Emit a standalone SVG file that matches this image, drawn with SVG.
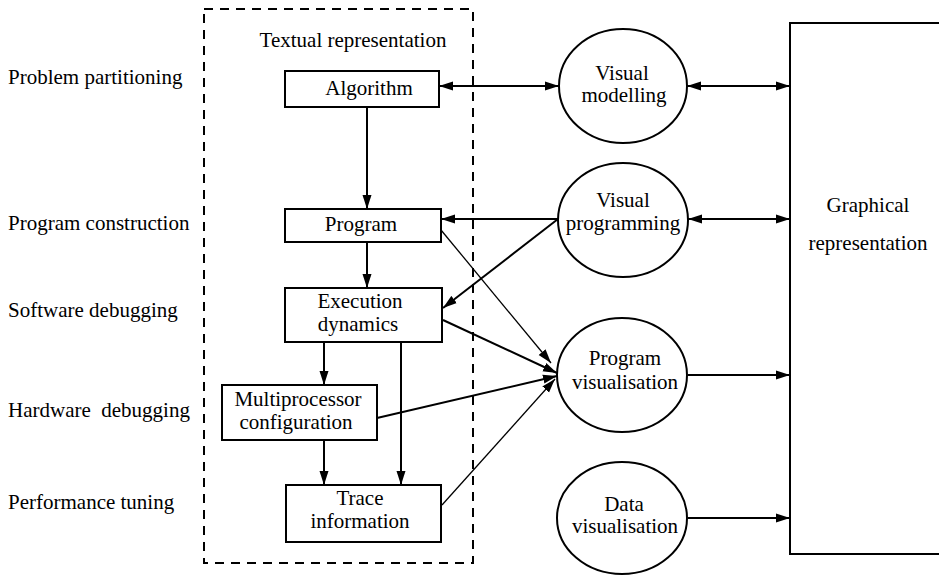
<svg xmlns="http://www.w3.org/2000/svg" width="939" height="575" viewBox="0 0 939 575" font-family="'Liberation Serif', 'Times New Roman', serif" font-size="21">
  <defs>
    <marker id="ah" markerWidth="14" markerHeight="10" refX="14" refY="5" orient="auto-start-reverse" markerUnits="userSpaceOnUse">
      <path d="M0,0.5 L14,5 L0,9.5 Z" fill="#000"/>
    </marker>
    <style>
      text { font-family: 'Liberation Serif', 'Times New Roman', serif; font-size: 21px; fill: #000; }
      .c { text-anchor: middle; }
      .box { fill: #fff; stroke: #000; stroke-width: 2; }
      .ell { fill: #fff; stroke: #000; stroke-width: 2; }
      .frame { fill: none; stroke: #000; stroke-width: 2; stroke-dasharray: 9 7; }
      .ln { fill: none; stroke: #000; stroke-width: 2; }
      .thin { fill: none; stroke: #000; stroke-width: 1.3; }
    </style>
  </defs>
  <rect width="939" height="575" fill="#fff"/>

  <!-- activity labels on the left -->
  <g id="labels">
    <text x="8" y="84">Problem partitioning</text>
    <text x="8" y="230">Program construction</text>
    <text x="8" y="317">Software debugging</text>
    <text x="8" y="417" xml:space="preserve">Hardware  debugging</text>
    <text x="8" y="509">Performance tuning</text>
  </g>

  <!-- dashed boundary of the textual side -->
  <g id="textual-representation">
    <rect class="frame" x="204" y="9" width="269" height="554"/>
    <text class="c" x="353" y="47">Textual representation</text>
  </g>

  <!-- connectors -->
  <g id="connectors">
    <line class="ln" x1="439" y1="86" x2="559" y2="86" marker-start="url(#ah)" marker-end="url(#ah)"/>
    <line class="ln" x1="687" y1="86" x2="790" y2="86" marker-start="url(#ah)" marker-end="url(#ah)"/>
    <line class="ln" x1="688" y1="219" x2="790" y2="219" marker-start="url(#ah)" marker-end="url(#ah)"/>
    <line class="ln" x1="558" y1="219" x2="441" y2="219" marker-end="url(#ah)"/>
    <line class="ln" x1="558" y1="219" x2="443" y2="308" marker-end="url(#ah)"/>
    <line class="ln" x1="367" y1="107" x2="367" y2="209" marker-end="url(#ah)"/>
    <line class="ln" x1="367" y1="242" x2="367" y2="288" marker-end="url(#ah)"/>
    <line class="ln" x1="324" y1="342" x2="324" y2="385" marker-end="url(#ah)"/>
    <line class="ln" x1="401" y1="342" x2="401" y2="485" marker-end="url(#ah)"/>
    <line class="ln" x1="324" y1="440" x2="324" y2="485" marker-end="url(#ah)"/>
    <line class="thin" x1="441" y1="230" x2="551" y2="363" marker-end="url(#ah)"/>
    <line class="ln" x1="443" y1="320" x2="557" y2="373" marker-end="url(#ah)"/>
    <line class="ln" x1="377" y1="418" x2="557" y2="376" marker-end="url(#ah)"/>
    <line class="thin" x1="442" y1="505" x2="555" y2="379" marker-end="url(#ah)"/>
    <line class="ln" x1="688" y1="375" x2="790" y2="375" marker-end="url(#ah)"/>
    <line class="ln" x1="688" y1="518" x2="790" y2="518" marker-end="url(#ah)"/>
  </g>

  <!-- textual boxes -->
  <g id="algorithm">
    <rect class="box" x="285" y="71" width="154" height="36"/>
    <text class="c" x="369" y="95">Algorithm</text>
  </g>
  <g id="program">
    <rect class="box" x="285" y="209" width="156" height="33"/>
    <text class="c" x="361" y="231">Program</text>
  </g>
  <g id="execution-dynamics">
    <rect class="box" x="285" y="288" width="157" height="54"/>
    <text class="c" x="360" y="308">Execution</text>
    <text class="c" x="358" y="331">dynamics</text>
  </g>
  <g id="multiprocessor-configuration">
    <rect class="box" x="222" y="385" width="155" height="55"/>
    <text class="c" x="298" y="406">Multiprocessor</text>
    <text class="c" x="296" y="429">configuration</text>
  </g>
  <g id="trace-information">
    <rect class="box" x="286" y="485" width="155" height="57"/>
    <text class="c" x="360" y="505">Trace</text>
    <text class="c" x="360" y="528">information</text>
  </g>

  <!-- visual techniques -->
  <g id="visual-modelling">
    <ellipse class="ell" cx="623" cy="86" rx="64" ry="57"/>
    <text class="c" x="622" y="80">Visual</text>
    <text class="c" x="624" y="102">modelling</text>
  </g>
  <g id="visual-programming">
    <ellipse class="ell" cx="623" cy="220" rx="65" ry="57"/>
    <text class="c" x="623" y="207">Visual</text>
    <text class="c" x="623" y="230">programming</text>
  </g>
  <g id="program-visualisation">
    <ellipse class="ell" cx="622" cy="375" rx="65" ry="57"/>
    <text class="c" x="625" y="365">Program</text>
    <text class="c" x="625" y="389">visualisation</text>
  </g>
  <g id="data-visualisation">
    <ellipse class="ell" cx="622" cy="518" rx="65" ry="56"/>
    <text class="c" x="624" y="511">Data</text>
    <text class="c" x="625" y="533">visualisation</text>
  </g>

  <!-- graphical side -->
  <g id="graphical-representation">
    <rect class="box" x="790" y="23" width="160" height="531"/>
    <text class="c" x="868" y="212">Graphical</text>
    <text class="c" x="868" y="250">representation</text>
  </g>
</svg>
